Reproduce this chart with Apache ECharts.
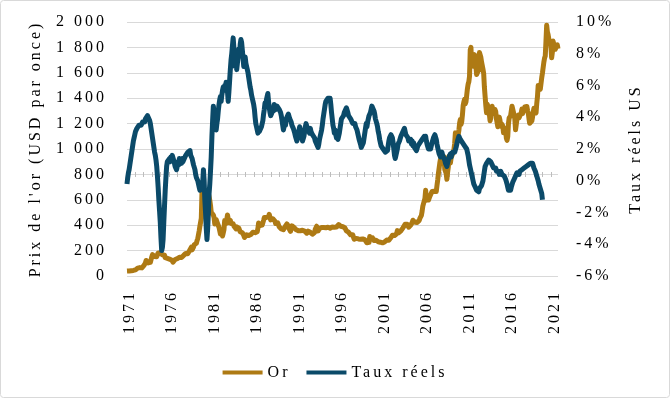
<!DOCTYPE html>
<html><head><meta charset="utf-8">
<script src="https://cdn.jsdelivr.net/npm/echarts@6/dist/echarts.min.js"></script>
<style>html,body{margin:0;padding:0;background:#fff}#c{width:670px;height:398px}</style>
</head><body><div id="c"></div>
<script>
// ---- data ----
const startYear = 1971, startMonth = 3; // first monthly observation
const tickYears = ['1971','1976','1981','1986','1991','1996','2001','2006','2011','2016','2021'];
const leftTicks = ['0','200','400','600','800','1 000','1 200','1 400','1 600','1 800','2 000'];
const rightTicks = ['-6%','-4%','-2%','0%','2%','4%','6%','8%','10%'];
const seriesNames = ['Or','Taux réels'];
const crossLevel = 800; // gold-axis level where the secondary horizontal axis crosses

const goldPrice = [
39,39,41,40,41,43,42,43,43,44,
46,48,48,49,55,62,66,67,66,65,63,64,
65,74,84,91,102,122,120,107,103,100,95,107,
129,150,168,172,163,154,143,155,152,159,182,184,
176,180,178,170,167,164,165,163,144,143,143,139,
132,131,133,128,128,126,118,109,114,116,130,134,
132,136,148,149,147,141,143,145,150,159,162,161,
173,178,184,175,176,184,189,206,213,227,206,208,
227,246,242,239,258,279,295,302,355,392,393,455,
675,665,554,517,514,601,644,627,674,661,624,595,
557,501,499,496,480,461,409,410,444,438,413,410,
384,374,330,351,334,315,339,364,436,422,414,444,
481,491,420,433,438,413,423,416,411,394,382,388,
371,387,394,381,377,378,348,348,341,340,341,320,
303,299,304,325,316,317,318,330,323,326,325,322,
345,339,346,341,342,343,349,376,418,423,398,391,
408,401,409,438,460,450,451,461,460,465,467,486,
477,442,444,452,451,452,438,432,413,406,420,419,
404,388,390,384,371,368,375,365,362,367,394,409,
410,417,393,374,369,352,363,395,389,381,382,378,
384,364,363,358,357,367,368,356,348,359,360,361,
355,354,344,339,337,341,353,343,345,344,335,335,
329,329,330,342,367,371,392,379,355,364,374,383,
387,382,384,377,381,386,386,380,392,390,384,379,
379,377,382,391,385,388,386,384,383,383,386,387,
400,405,396,393,392,385,384,388,383,381,378,369,
355,347,352,345,344,341,324,324,323,325,306,289,
289,298,296,308,299,292,293,284,289,296,294,292,
287,287,286,282,276,261,256,257,265,311,293,283,
284,300,286,280,275,286,282,275,274,270,266,272,
266,262,263,261,272,270,268,272,283,283,276,276,
282,296,294,303,315,321,313,310,319,317,319,333,
357,359,341,328,356,356,351,360,379,379,390,408,
414,405,407,403,384,392,398,401,405,421,439,442,
424,423,434,429,422,431,425,438,456,470,477,510,
550,555,557,611,675,596,634,633,598,586,628,630,
631,665,655,679,667,656,665,665,713,755,806,803,
890,922,968,910,889,890,940,839,830,807,761,816,
859,943,924,890,929,946,934,949,997,1043,1127,1135,
1118,1095,1113,1149,1205,1233,1193,1216,1271,1342,1370,1391,
1356,1373,1424,1474,1510,1529,1573,1780,1800,1665,1739,1652,
1656,1743,1674,1650,1586,1597,1594,1626,1760,1755,1722,1685,
1672,1628,1593,1488,1414,1343,1286,1352,1349,1317,1276,1222,
1244,1300,1336,1299,1289,1279,1311,1295,1237,1223,1175,1201,
1251,1227,1179,1199,1199,1182,1128,1118,1125,1159,1086,1068,
1098,1200,1245,1242,1261,1276,1337,1340,1327,1267,1238,1151,
1192,1234,1231,1267,1246,1260,1237,1283,1314,1280,1282,1265,
1331,1331,1325,1335,1303,1282,1238,1202,1198,1215,1221,1250,
1292,1320,1301,1286,1284,1359,1413,1500,1511,1495,1470,1479,
1561,1597,1592,1683,1716,1732,1847,1975,1922,1900,1866,1858,
1867,1808,1718,1760,1850,1835,1808,1785,1775,1777,1820,1790
];

const realRates = [
-0.2,0.2,0.5,0.7,1.0,1.3,1.6,1.9,2.2,2.5,2.7,2.9,
3.1,3.2,3.3,3.2,3.4,3.5,3.4,3.6,3.5,3.6,3.7,3.7,
3.8,3.7,3.9,4.0,3.9,4.1,4.2,4.0,3.8,3.6,3.3,3.0,
2.7,2.4,2.1,1.8,1.6,1.3,0.9,0.3,-0.4,-1.2,-1.9,-2.6,
-3.6,-4.4,-4.2,-3.7,-2.6,-1.6,-0.6,0.2,0.9,1.2,1.3,1.2,
1.4,1.2,1.5,1.3,1.6,1.5,1.3,1.1,0.9,0.8,0.7,0.9,
1.2,1.0,1.4,1.5,1.3,1.1,1.4,1.2,1.1,1.4,1.3,1.6,
1.5,1.7,1.8,1.8,1.7,1.9,1.6,1.5,1.4,1.2,1.0,0.9,
0.7,0.4,0.2,0.1,0.0,-0.2,-0.4,-0.6,-0.5,-0.3,-0.4,-0.1,
0.7,0.0,-1.2,-2.0,-3.0,-3.7,-3.0,-2.0,-0.8,-0.2,0.6,1.5,
2.8,3.8,4.7,4.3,3.9,3.5,3.2,3.6,3.9,4.4,4.8,5.1,
5.3,5.0,5.4,5.7,5.9,5.7,6.0,5.8,6.2,6.3,5.6,5.0,
5.6,6.3,7.0,7.6,8.0,8.5,9.0,8.4,7.6,7.2,7.5,7.0,
7.4,7.8,8.3,8.0,8.6,8.9,8.7,8.2,7.7,7.2,7.5,7.8,
7.4,7.2,7.0,6.8,6.5,6.2,5.9,5.7,5.4,5.2,5.0,4.8,
4.5,4.0,3.6,3.4,3.2,3.0,3.3,3.1,3.0,3.2,3.4,3.5,
3.8,4.2,4.5,4.9,4.7,5.1,5.3,5.5,5.0,4.6,4.3,4.1,
4.0,4.3,4.6,4.4,4.8,4.9,4.7,4.5,4.7,4.6,4.8,4.5,
4.6,4.3,4.1,3.8,3.5,3.2,3.4,3.7,3.5,3.9,4.0,3.8,
4.2,4.1,3.9,4.0,3.7,3.5,3.6,3.3,3.2,3.0,2.8,2.9,
2.5,2.7,3.0,3.2,3.4,3.3,3.0,2.7,2.5,2.4,2.8,3.1,
3.4,3.6,3.5,3.3,3.4,3.2,3.0,3.3,3.1,3.2,2.9,3.0,
2.8,2.7,2.5,2.6,2.3,2.4,2.1,2.3,2.6,2.8,3.0,3.2,
3.5,3.9,4.2,4.5,4.8,5.0,5.1,4.9,5.2,5.3,5.1,5.2,
4.8,4.3,3.9,3.5,3.3,3.0,3.2,2.9,2.7,2.9,2.6,2.6,
3.0,3.3,3.6,3.9,4.0,3.8,4.1,4.3,4.2,4.4,4.6,4.5,
4.3,4.1,4.2,4.0,3.9,3.8,3.9,3.6,3.7,3.5,3.6,3.4,
3.4,3.2,3.0,2.9,2.6,2.5,2.3,2.1,2.0,2.2,2.4,2.7,
3.0,3.3,3.6,3.4,3.7,3.9,4.1,4.0,4.3,4.5,4.7,4.8,
4.6,4.4,4.2,3.9,3.8,3.6,3.4,3.1,2.9,2.6,2.4,2.2,
2.1,2.3,2.0,1.9,2.1,1.8,1.9,1.7,1.9,2.2,2.5,2.7,
2.8,2.9,3.0,2.7,2.4,2.0,1.6,1.4,1.6,1.8,2.0,2.3,
2.4,2.5,2.6,2.8,2.7,3.0,3.1,3.0,3.3,3.1,2.9,3.0,
2.8,2.7,2.5,2.6,2.4,2.6,2.3,2.5,2.2,2.4,2.1,2.0,
2.1,1.9,2.0,2.2,2.1,2.3,2.4,2.3,2.5,2.6,2.5,2.7,
2.8,2.6,2.8,2.5,2.3,2.2,2.0,2.1,1.9,2.0,2.2,2.4,
2.5,2.7,2.8,2.9,2.8,2.6,2.3,2.1,1.9,1.7,1.6,1.5,
1.6,1.8,1.6,1.7,1.5,1.3,1.1,1.0,0.9,1.1,1.3,1.5,
1.6,1.7,1.5,1.6,1.8,1.7,1.9,1.8,1.9,2.1,2.3,2.5,
2.6,2.8,2.7,2.6,2.5,2.6,2.4,2.3,2.4,2.2,2.1,2.2,
2.0,1.9,1.6,1.3,1.0,0.8,0.6,0.4,0.2,0.0,-0.2,-0.2,
-0.4,-0.5,-0.6,-0.7,-0.6,-0.7,-0.5,-0.4,-0.5,-0.3,-0.2,0.0,
0.3,0.6,0.9,1.0,1.1,1.2,1.1,1.3,1.2,1.3,1.2,1.1,
1.0,0.9,0.8,0.9,0.7,0.8,0.6,0.7,0.5,0.6,0.4,0.5,
0.6,0.5,0.4,0.3,0.4,0.3,0.2,0.1,0.0,-0.2,-0.4,-0.6,
-0.7,-0.7,-0.6,-0.4,-0.3,-0.1,0.0,0.1,0.2,0.3,0.4,0.5,
0.5,0.6,0.4,0.6,0.7,0.6,0.7,0.8,0.7,0.8,0.9,0.8,
0.9,0.8,0.9,1.0,1.1,1.0,1.1,1.2,1.1,1.1,1.0,0.8,
0.7,0.6,0.5,0.3,0.2,0.0,-0.2,-0.3,-0.5,-0.6,-0.8,-1.2
];

// ---- text letter spacing (reference text is widely spaced) ----
(function(){
  const P = CanvasRenderingContext2D.prototype;
  ['fillText','strokeText','measureText'].forEach(function(fn){
    const orig = P[fn];
    P[fn] = function(){ try { this.letterSpacing = '3px'; } catch(e){} return orig.apply(this, arguments); };
  });
})();

// ---- categories (monthly) ----
const categories = [];
for (let i = 0; i < goldPrice.length; i++) {
  const m = startMonth - 1 + i;
  const y = startYear + Math.floor(m / 12);
  const mm = (m % 12) + 1;
  categories.push(y + '-' + (mm < 10 ? '0' + mm : mm));
}
const LABEL_OFFSET = 4, LABEL_STEP = 60;

// yearly tick positions on the secondary horizontal axis
const crossTickCats = categories.filter(function(c, i){ return i % 12 === 11; });

const GOLD = '#AE7A14', TEAL = '#0B4A69', AXIS_GREY = '#bdbdbd';
const FONT = 'Liberation Serif';

const chart = echarts.init(document.getElementById('c'), null, {renderer: 'canvas'});
chart.setOption({
  animation: false,
  textStyle: {fontFamily: FONT, fontSize: 16, color: '#000'},
  graphic: [{
    type: 'rect', silent: true, z: -1,
    shape: {x: 0.5, y: 0.5, width: 669, height: 397, r: 3},
    style: {fill: 'none', stroke: '#d9d9d9', lineWidth: 1}
  }],
  grid: {left: 127, right: 112, top: 22, bottom: 122, containLabel: false},
  legend: {
    data: seriesNames, left: 'center', top: 358,
    icon: 'rect', itemWidth: 40, itemHeight: 4, itemGap: 16,
    textStyle: {fontFamily: FONT, fontSize: 16, color: '#000'}
  },
  xAxis: [{
    type: 'category', data: categories, boundaryGap: false, position: 'bottom',
    axisLine: {show: false}, axisTick: {show: false}, splitLine: {show: false},
    axisLabel: {
      rotate: 90, margin: 14, fontFamily: FONT, fontSize: 16, color: '#000',
      interval: function(i){ return i >= LABEL_OFFSET && (i - LABEL_OFFSET) % LABEL_STEP === 0; },
      formatter: function(v, i){ const k = (i - LABEL_OFFSET) / LABEL_STEP; return tickYears[k] || ''; }
    }
  }],
  yAxis: [{
    type: 'value', position: 'left', min: 0, max: 2000, interval: 200,
    name: "Prix de l'or (USD par once)", nameLocation: 'middle', nameRotate: 90, nameGap: 80,
    nameTextStyle: {fontFamily: FONT, fontSize: 16, color: '#000'},
    axisLine: {show: false}, axisTick: {show: false},
    splitLine: {show: true, lineStyle: {color: '#d9d9d9', width: 1}},
    axisLabel: {margin: 20, fontFamily: FONT, fontSize: 16, color: '#000',
      formatter: function(v){ return leftTicks[Math.round(v / 200)]; }}
  }, {
    type: 'value', position: 'right', min: -6, max: 10, interval: 2,
    name: 'Taux réels US', nameLocation: 'middle', nameRotate: 90, nameGap: 68,
    nameTextStyle: {fontFamily: FONT, fontSize: 16, color: '#000'},
    axisLine: {show: false}, axisTick: {show: false}, splitLine: {show: false},
    axisLabel: {margin: 18, fontFamily: FONT, fontSize: 16, color: '#000',
      formatter: function(v){ return rightTicks[Math.round((v + 6) / 2)]; }}
  }],
  series: [{
    name: 'axe', type: 'custom', xAxisIndex: 0, yAxisIndex: 0, silent: true, z: 1,
    data: crossTickCats.map(function(c){ return [c, crossLevel]; }),
    renderItem: function(params, api){
      const p = api.coord([api.value(0), api.value(1)]);
      const x = Math.round(p[0]) + 0.5, y = Math.round(p[1]);
      return {type: 'line', shape: {x1: x, y1: y - 2, x2: x, y2: y + 3},
              style: {stroke: AXIS_GREY, lineWidth: 1}};
    }
  }, {
    name: seriesNames[0], type: 'line', xAxisIndex: 0, yAxisIndex: 0, data: goldPrice,
    symbol: 'none', showSymbol: false, z: 2,
    lineStyle: {color: GOLD, width: 5, join: 'round'}, itemStyle: {color: GOLD}
  }, {
    name: seriesNames[1], type: 'line', xAxisIndex: 0, yAxisIndex: 1, data: realRates,
    symbol: 'none', showSymbol: false, z: 3,
    lineStyle: {color: TEAL, width: 5, join: 'round'}, itemStyle: {color: TEAL}
  }]
});
</script></body></html>
